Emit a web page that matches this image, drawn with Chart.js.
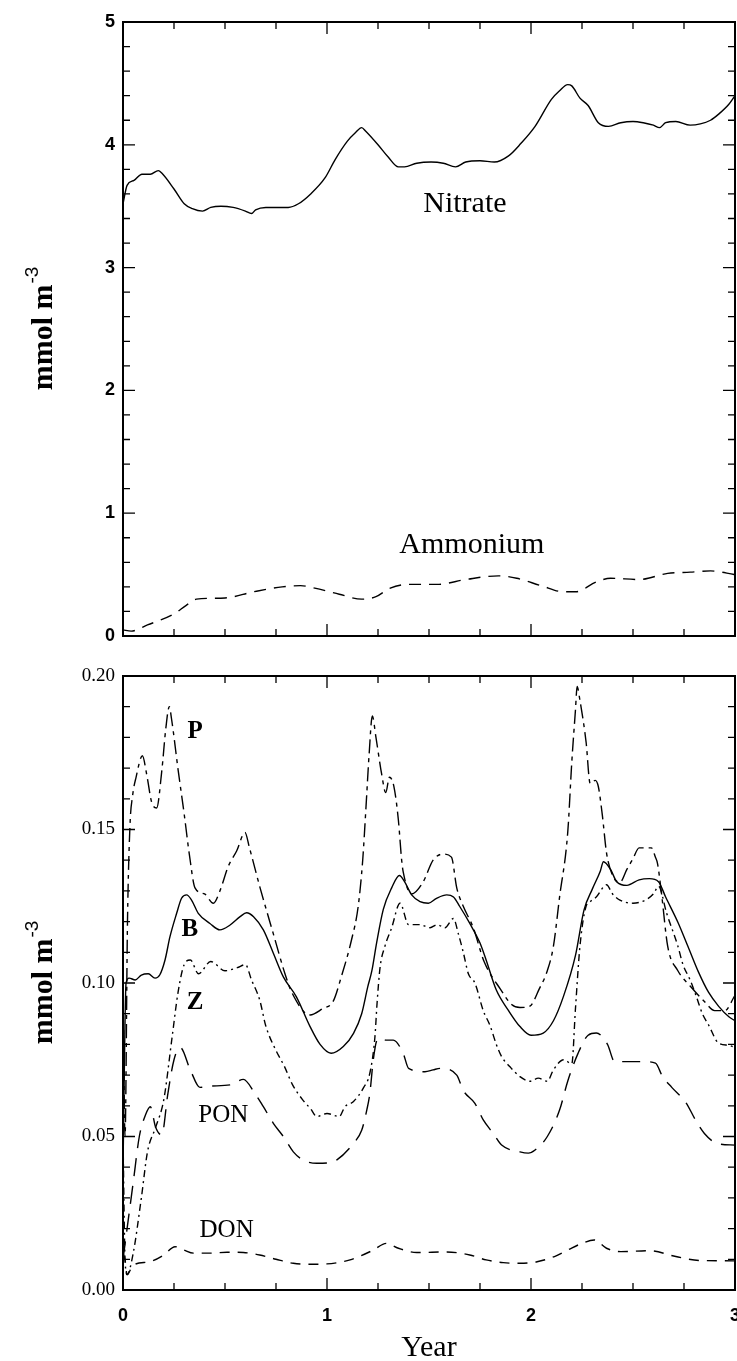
<!DOCTYPE html>
<html>
<head>
<meta charset="utf-8">
<script src="https://cdn.jsdelivr.net/npm/chart.js@4.4.0/dist/chart.umd.min.js"></script>
<style>
html, body { margin: 0; padding: 0; background: #fff; overflow: hidden; }
#nutrientChart { position: absolute; left: 0; top: 0; }
#planktonChart { position: absolute; left: 0; top: 660px; }
</style>
</head>
<body>
<canvas id="nutrientChart" width="737" height="660"></canvas>
<canvas id="planktonChart" width="737" height="701"></canvas>
<script>
// ---- top panel (mmol m-3) ----
var nitrateYr = [0, 0.02, 0.054, 0.093, 0.134, 0.173, 0.19, 0.25, 0.30, 0.34, 0.39, 0.43, 0.48, 0.54, 0.60, 0.63, 0.65, 0.70, 0.76, 0.81, 0.86, 0.92, 0.99, 1.04, 1.10, 1.14, 1.17, 1.19, 1.25, 1.30, 1.35, 1.38, 1.44, 1.51, 1.57, 1.63, 1.68, 1.75, 1.82, 1.89, 1.95, 2.02, 2.10, 2.14, 2.18, 2.20, 2.24, 2.28, 2.33, 2.38, 2.44, 2.50, 2.55, 2.60, 2.63, 2.66, 2.71, 2.78, 2.83, 2.88, 2.92, 2.97, 3.0];
var nitrate   = [3.52, 3.67, 3.71, 3.76, 3.76, 3.79, 3.77, 3.64, 3.52, 3.48, 3.46, 3.49, 3.50, 3.49, 3.46, 3.44, 3.47, 3.49, 3.49, 3.49, 3.52, 3.60, 3.73, 3.88, 4.03, 4.10, 4.14, 4.11, 4.00, 3.90, 3.82, 3.82, 3.85, 3.86, 3.85, 3.82, 3.86, 3.87, 3.86, 3.91, 4.01, 4.15, 4.37, 4.44, 4.49, 4.48, 4.38, 4.32, 4.18, 4.15, 4.18, 4.19, 4.18, 4.16, 4.14, 4.18, 4.19, 4.16, 4.17, 4.20, 4.25, 4.33, 4.40];

var ammoniumYr = [0, 0.04, 0.12, 0.25, 0.31, 0.36, 0.50, 0.64, 0.78, 0.87, 0.94, 1.06, 1.17, 1.24, 1.31, 1.40, 1.54, 1.68, 1.84, 1.93, 2.05, 2.16, 2.22, 2.32, 2.39, 2.53, 2.67, 2.78, 2.88, 3.0];
var ammonium   = [0.05, 0.04, 0.09, 0.18, 0.25, 0.30, 0.31, 0.36, 0.40, 0.41, 0.39, 0.34, 0.30, 0.32, 0.39, 0.42, 0.42, 0.46, 0.49, 0.47, 0.41, 0.36, 0.36, 0.44, 0.47, 0.46, 0.51, 0.52, 0.53, 0.50];

// ---- bottom panel (mmol m-3) ----
var pYr = [0, 0.01, 0.022, 0.034, 0.047, 0.064, 0.095, 0.116, 0.14, 0.165, 0.19, 0.21, 0.227, 0.238, 0.271, 0.30, 0.325, 0.353, 0.40, 0.443, 0.475, 0.516, 0.557, 0.598, 0.62, 0.672, 0.737, 0.794, 0.827, 0.917, 0.98, 1.03, 1.07, 1.12, 1.153, 1.175, 1.19, 1.207, 1.222, 1.24, 1.268, 1.288, 1.306, 1.328, 1.35, 1.366, 1.374, 1.415, 1.472, 1.52, 1.57, 1.61, 1.636, 1.668, 1.717, 1.77, 1.85, 1.905, 1.946, 1.995, 2.04, 2.08, 2.11, 2.14, 2.18, 2.20, 2.218, 2.226, 2.24, 2.27, 2.29, 2.315, 2.33, 2.35, 2.37, 2.40, 2.436, 2.47, 2.50, 2.53, 2.59, 2.61, 2.62, 2.64, 2.67, 2.72, 2.78, 2.85, 2.90, 2.95, 3.0];
var p   = [0.10, 0.05, 0.12, 0.151, 0.161, 0.167, 0.174, 0.168, 0.159, 0.157, 0.169, 0.183, 0.190, 0.186, 0.169, 0.155, 0.142, 0.131, 0.129, 0.126, 0.130, 0.138, 0.143, 0.149, 0.144, 0.131, 0.116, 0.103, 0.097, 0.0896, 0.0917, 0.094, 0.102, 0.114, 0.125, 0.140, 0.156, 0.175, 0.187, 0.180, 0.168, 0.162, 0.167, 0.164, 0.153, 0.140, 0.136, 0.129, 0.133, 0.140, 0.142, 0.141, 0.131, 0.125, 0.118, 0.107, 0.098, 0.093, 0.092, 0.0925, 0.098, 0.104, 0.112, 0.128, 0.149, 0.172, 0.189, 0.1966, 0.192, 0.1785, 0.165, 0.166, 0.164, 0.1545, 0.1425, 0.135, 0.1328, 0.137, 0.1405, 0.144, 0.144, 0.141, 0.139, 0.129, 0.112, 0.104, 0.099, 0.094, 0.091, 0.091, 0.096];

var bYr = [0, 0.015, 0.03, 0.06, 0.09, 0.124, 0.157, 0.18, 0.206, 0.23, 0.263, 0.287, 0.312, 0.336, 0.369, 0.426, 0.475, 0.525, 0.574, 0.606, 0.64, 0.688, 0.737, 0.786, 0.85, 0.917, 0.966, 1.02, 1.08, 1.13, 1.17, 1.20, 1.22, 1.243, 1.276, 1.317, 1.355, 1.38, 1.415, 1.456, 1.497, 1.537, 1.587, 1.62, 1.65, 1.70, 1.75, 1.78, 1.83, 1.89, 1.946, 2.0, 2.06, 2.11, 2.16, 2.218, 2.26, 2.30, 2.34, 2.355, 2.39, 2.42, 2.47, 2.53, 2.58, 2.625, 2.66, 2.72, 2.77, 2.82, 2.87, 2.92, 2.97, 3.0];
var b   = [0.04, 0.10, 0.1016, 0.1010, 0.1026, 0.103, 0.1016, 0.1026, 0.1075, 0.115, 0.1227, 0.1276, 0.1287, 0.127, 0.1227, 0.1194, 0.1173, 0.1189, 0.1216, 0.1229, 0.1216, 0.1173, 0.1097, 0.102, 0.0955, 0.0858, 0.080, 0.0771, 0.0793, 0.0836, 0.090, 0.0988, 0.104, 0.113, 0.124, 0.131, 0.135, 0.133, 0.1287, 0.1265, 0.126, 0.1276, 0.1287, 0.128, 0.125, 0.1194, 0.113, 0.1075, 0.0977, 0.091, 0.0858, 0.083, 0.0837, 0.0877, 0.0958, 0.109, 0.1238, 0.1305, 0.1365, 0.1395, 0.137, 0.133, 0.1318, 0.1336, 0.134, 0.133, 0.128, 0.1198, 0.1118, 0.1037, 0.097, 0.0924, 0.089, 0.0877];

var zYr = [0, 0.01, 0.02, 0.05, 0.09, 0.12, 0.16, 0.20, 0.24, 0.27, 0.30, 0.33, 0.37, 0.43, 0.50, 0.56, 0.60, 0.63, 0.67, 0.70, 0.75, 0.79, 0.83, 0.88, 0.92, 0.95, 1.0, 1.06, 1.088, 1.13, 1.18, 1.21, 1.235, 1.245, 1.26, 1.284, 1.317, 1.358, 1.40, 1.456, 1.505, 1.54, 1.578, 1.62, 1.644, 1.668, 1.693, 1.725, 1.766, 1.80, 1.83, 1.856, 1.897, 1.946, 1.995, 2.036, 2.08, 2.11, 2.16, 2.20, 2.218, 2.24, 2.27, 2.29, 2.32, 2.37, 2.40, 2.436, 2.50, 2.56, 2.60, 2.625, 2.665, 2.72, 2.745, 2.78, 2.81, 2.84, 2.87, 2.92, 2.97, 3.0];
var z   = [0.05, 0.01, 0.005, 0.012, 0.03, 0.045, 0.053, 0.062, 0.082, 0.097, 0.106, 0.1075, 0.103, 0.107, 0.104, 0.105, 0.106, 0.101, 0.0945, 0.086, 0.078, 0.073, 0.067, 0.062, 0.059, 0.0565, 0.0575, 0.0565, 0.0597, 0.0614, 0.066, 0.0706, 0.0825, 0.093, 0.105, 0.112, 0.118, 0.126, 0.119, 0.119, 0.118, 0.119, 0.118, 0.121, 0.116, 0.110, 0.103, 0.100, 0.091, 0.086, 0.080, 0.076, 0.0727, 0.0695, 0.068, 0.069, 0.068, 0.0717, 0.075, 0.0737, 0.0917, 0.112, 0.125, 0.1265, 0.128, 0.132, 0.129, 0.127, 0.126, 0.127, 0.129, 0.1315, 0.1227, 0.112, 0.106, 0.101, 0.0957, 0.090, 0.0864, 0.0804, 0.0797, 0.079];

var ponYr = [0, 0.02, 0.05, 0.08, 0.11, 0.134, 0.16, 0.19, 0.22, 0.25, 0.28, 0.33, 0.377, 0.426, 0.525, 0.59, 0.647, 0.688, 0.737, 0.786, 0.835, 0.884, 0.95, 1.015, 1.047, 1.13, 1.17, 1.195, 1.21, 1.227, 1.245, 1.26, 1.29, 1.325, 1.374, 1.40, 1.48, 1.52, 1.554, 1.636, 1.668, 1.725, 1.766, 1.815, 1.856, 1.946, 1.987, 2.02, 2.08, 2.14, 2.18, 2.23, 2.28, 2.32, 2.375, 2.41, 2.55, 2.61, 2.645, 2.69, 2.76, 2.806, 2.85, 2.91, 3.0];
var pon   = [0.01, 0.02, 0.035, 0.05, 0.057, 0.0597, 0.053, 0.0505, 0.064, 0.075, 0.079, 0.0717, 0.066, 0.0664, 0.0668, 0.0686, 0.064, 0.0597, 0.0543, 0.050, 0.045, 0.0423, 0.0413, 0.0415, 0.0423, 0.0478, 0.052, 0.0586, 0.064, 0.075, 0.0814, 0.082, 0.0814, 0.0814, 0.077, 0.0722, 0.0711, 0.0717, 0.0722, 0.070, 0.065, 0.0608, 0.0554, 0.051, 0.0472, 0.045, 0.0446, 0.0456, 0.05, 0.0586, 0.068, 0.077, 0.083, 0.0837, 0.080, 0.0744, 0.0744, 0.0739, 0.0695, 0.066, 0.061, 0.0554, 0.051, 0.0478, 0.0472];

var donYr = [0, 0.01, 0.02, 0.05, 0.13, 0.2, 0.255, 0.30, 0.345, 0.426, 0.51, 0.59, 0.67, 0.75, 0.835, 0.917, 1.0, 1.05, 1.113, 1.227, 1.29, 1.35, 1.44, 1.587, 1.70, 1.78, 1.864, 1.946, 2.03, 2.115, 2.18, 2.25, 2.31, 2.37, 2.44, 2.58, 2.71, 2.83, 3.0];
var don   = [0.012, 0.0098, 0.005, 0.0081, 0.0092, 0.0114, 0.0141, 0.013, 0.012, 0.012, 0.0123, 0.0122, 0.0114, 0.010, 0.0087, 0.0084, 0.0085, 0.0089, 0.0098, 0.013, 0.0152, 0.0136, 0.0122, 0.0124, 0.0114, 0.0098, 0.0089, 0.0087, 0.0092, 0.0109, 0.013, 0.0152, 0.0163, 0.0136, 0.0125, 0.0128, 0.0109, 0.0096, 0.0095];

function pts(xs, ys) {
    return xs.map(function (x, i) { return { x: x, y: ys[i] }; });
}

function line(label, xs, ys, dash) {
    return {
        label: label,
        data: pts(xs, ys),
        borderColor: '#000',
        borderWidth: 1.4,
        borderDash: dash,
        pointRadius: 0,
        fill: false,
        cubicInterpolationMode: 'monotone'
    };
}

// frame, inward ticks, y title and curve labels
var frame = {
    id: 'frame',
    afterDatasetsDraw: function (chart, args, opts) {
        var ctx = chart.ctx, a = chart.chartArea;
        var xs = chart.scales.x, ys = chart.scales.y;
        ctx.save();
        ctx.strokeStyle = '#000';
        ctx.lineWidth = 2;
        ctx.strokeRect(a.left, a.top, a.right - a.left, a.bottom - a.top);

        ctx.lineWidth = 1.3;
        ctx.beginPath();
        var n = Math.round((xs.max - xs.min) / opts.xMinor);
        for (var i = 0; i <= n; i++) {
            var v = xs.min + i * opts.xMinor;
            var r = v / opts.xMajor;
            var len = Math.abs(r - Math.round(r)) < 1e-6 ? 12 : 7;
            var px = xs.getPixelForValue(v);
            ctx.moveTo(px, a.bottom); ctx.lineTo(px, a.bottom - len);
            ctx.moveTo(px, a.top); ctx.lineTo(px, a.top + len);
        }
        n = Math.round((ys.max - ys.min) / opts.yMinor);
        for (i = 0; i <= n; i++) {
            v = ys.min + i * opts.yMinor;
            r = v / opts.yMajor;
            len = Math.abs(r - Math.round(r)) < 1e-6 ? 12 : 7;
            var py = ys.getPixelForValue(v);
            ctx.moveTo(a.left, py); ctx.lineTo(a.left + len, py);
            ctx.moveTo(a.right, py); ctx.lineTo(a.right - len, py);
        }
        ctx.stroke();

        // y axis title with superscript
        var cy = (a.top + a.bottom) / 2;
        ctx.translate(52, cy);
        ctx.rotate(-Math.PI / 2);
        ctx.fillStyle = '#000';
        ctx.textBaseline = 'alphabetic';
        ctx.font = 'bold 30px "Liberation Serif"';
        var main = 'mmol m';
        var w1 = ctx.measureText(main).width;
        ctx.font = '19px "Liberation Sans"';
        var w2 = ctx.measureText('-3').width;
        var x0 = -(w1 + w2) / 2;
        ctx.font = 'bold 30px "Liberation Serif"';
        ctx.fillText(main, x0, 0);
        ctx.font = '19px "Liberation Sans"';
        ctx.fillText('-3', x0 + w1 + 1, -14);
        ctx.setTransform(1, 0, 0, 1, 0, 0);
        ctx.restore();

        ctx.save();
        ctx.fillStyle = '#000';
        ctx.textAlign = 'center';
        ctx.textBaseline = 'middle';
        opts.labels.forEach(function (t) {
            ctx.font = t.font;
            ctx.fillText(t.text, xs.getPixelForValue(t.x), ys.getPixelForValue(t.y));
        });
        ctx.restore();
    }
};

var nutrientChart = new Chart(document.getElementById('nutrientChart'), {
    type: 'line',
    data: {
        datasets: [
            line('Nitrate', nitrateYr, nitrate, []),
            line('Ammonium', ammoniumYr, ammonium, [12, 8])
        ]
    },
    options: {
        responsive: false,
        animation: false,
        layout: { padding: { top: 22, right: 2, left: 0, bottom: 0 } },
        plugins: {
            legend: { display: false },
            tooltip: { enabled: false },
            frame: {
                xMinor: 0.25, xMajor: 1, yMinor: 0.2, yMajor: 1,
                labels: [
                    { text: 'Nitrate', x: 1.676, y: 3.52, font: '30px "Liberation Serif"' },
                    { text: 'Ammonium', x: 1.71, y: 0.74, font: '30px "Liberation Serif"' }
                ]
            }
        },
        scales: {
            x: {
                type: 'linear', min: 0, max: 3,
                grid: { display: false }, border: { display: false },
                ticks: { display: false },
                afterFit: function (s) { s.height = 24; }
            },
            y: {
                min: 0, max: 5,
                grid: { display: false, drawTicks: false }, border: { display: false },
                ticks: { stepSize: 1, padding: 8, color: '#000', font: { family: 'Liberation Sans', size: 18, weight: 'bold' } },
                afterFit: function (s) { s.width = 123; }
            }
        }
    },
    plugins: [frame]
});

var planktonChart = new Chart(document.getElementById('planktonChart'), {
    type: 'line',
    data: {
        datasets: [
            line('P', pYr, p, [14, 5, 4, 5]),
            line('B', bYr, b, []),
            line('Z', zYr, z, [7, 4, 2, 4]),
            line('PON', ponYr, pon, [18, 10]),
            line('DON', donYr, don, [10, 8])
        ]
    },
    options: {
        responsive: false,
        animation: false,
        layout: { padding: { top: 16, right: 2, left: 0, bottom: 0 } },
        plugins: {
            legend: { display: false },
            tooltip: { enabled: false },
            frame: {
                xMinor: 0.25, xMajor: 1, yMinor: 0.01, yMajor: 0.05,
                labels: [
                    { text: 'P', x: 0.353, y: 0.1819, font: 'bold 25px "Liberation Serif"' },
                    { text: 'B', x: 0.328, y: 0.1173, font: 'bold 25px "Liberation Serif"' },
                    { text: 'Z', x: 0.353, y: 0.0935, font: 'bold 25px "Liberation Serif"' },
                    { text: 'PON', x: 0.492, y: 0.057, font: '25px "Liberation Serif"' },
                    { text: 'DON', x: 0.508, y: 0.0195, font: '25px "Liberation Serif"' }
                ]
            }
        },
        scales: {
            x: {
                type: 'linear', min: 0, max: 3,
                grid: { display: false, drawTicks: false }, border: { display: false },
                ticks: { stepSize: 1, padding: 15, color: '#000', font: { family: 'Liberation Sans', size: 18, weight: 'bold' } },
                title: {
                    display: true, text: 'Year', color: '#000',
                    font: { family: 'Liberation Serif', size: 30, lineHeight: 0.8 },
                    padding: { top: 0, bottom: 1 }
                },
                afterFit: function (s) { s.height = 71; s.paddingLeft = 0; s.paddingRight = 0; }
            },
            y: {
                min: 0, max: 0.2,
                grid: { display: false, drawTicks: false }, border: { display: false },
                ticks: {
                    stepSize: 0.05, padding: 8, color: '#000',
                    font: { family: 'Liberation Serif', size: 19 },
                    callback: function (v) { return v.toFixed(2); }
                },
                afterFit: function (s) { s.width = 123; s.paddingTop = 0; s.paddingBottom = 0; }
            }
        }
    },
    plugins: [frame]
});
</script>
</body>
</html>
